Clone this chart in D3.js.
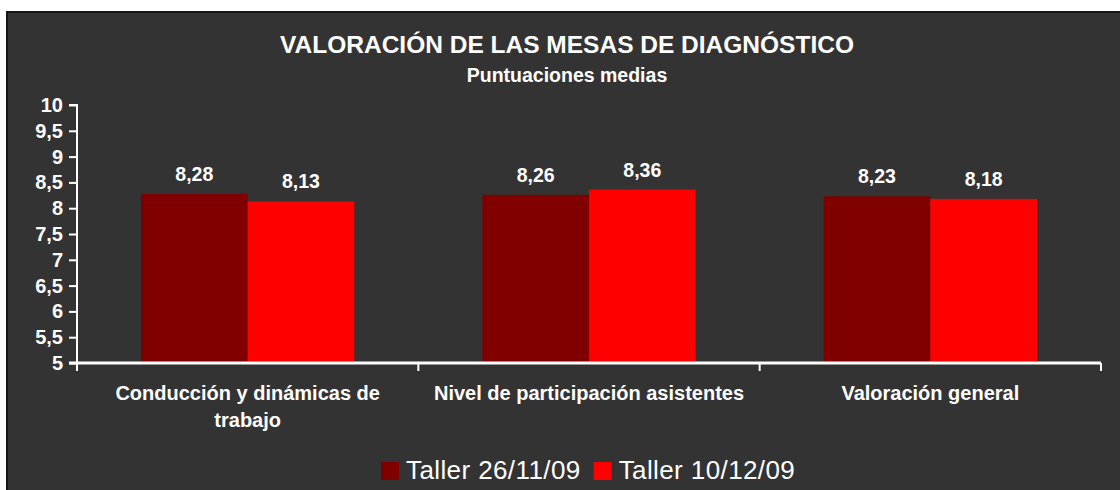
<!DOCTYPE html>
<html>
<head>
<meta charset="utf-8">
<script src="https://cdn.jsdelivr.net/npm/d3@7"></script>
<style>
  body { margin: 0; background: #fff; }
  svg { display: block; font-family: "Liberation Sans", Arial, sans-serif; }
</style>
</head>
<body>
<div id="vis"></div>
<script>
const categories = [["Conducción y dinámicas de", "trabajo"], ["Nivel de participación asistentes"], ["Valoración general"]];
const seriesNames = ["Taller 26/11/09", "Taller 10/12/09"];
const seriesColors = ["#800000", "#ff0000"];
const values1 = [8.28, 8.26, 8.23];
const values2 = [8.13, 8.36, 8.18];
const valueLabels1 = ["8,28", "8,26", "8,23"];
const valueLabels2 = ["8,13", "8,36", "8,18"];
const yTicks = [5, 5.5, 6, 6.5, 7, 7.5, 8, 8.5, 9, 9.5, 10];

const W = 1120, H = 490;
const margin = { top: 105, right: 19, bottom: 127, left: 77 };
const width = W - margin.left - margin.right;
const height = H - margin.top - margin.bottom;

const svg = d3.select("#vis").append("svg")
  .attr("width", W)
  .attr("height", H);

// chart panel
svg.append("rect")
  .attr("x", 7).attr("y", 12)
  .attr("width", W).attr("height", H)
  .attr("fill", "#333333")
  .attr("stroke", "#161616")
  .attr("stroke-width", 2);

svg.append("text")
  .attr("x", 567).attr("y", 53)
  .attr("text-anchor", "middle")
  .attr("fill", "#fff")
  .attr("font-weight", "bold")
  .attr("font-size", 24.5)
  .text("VALORACIÓN DE LAS MESAS DE DIAGNÓSTICO");

svg.append("text")
  .attr("x", 567).attr("y", 82)
  .attr("text-anchor", "middle")
  .attr("fill", "#fff")
  .attr("font-weight", "bold")
  .attr("font-size", 19.5)
  .text("Puntuaciones medias");

const g = svg.append("g")
  .attr("transform", `translate(${margin.left},${margin.top})`);

const x0 = d3.scaleBand()
  .domain(d3.range(categories.length))
  .range([0, width]);

const x1 = d3.scaleBand()
  .domain([0, 1])
  .range([0, x0.bandwidth()])
  .paddingOuter(0.6);

const y = d3.scaleLinear()
  .domain([5, 10])
  .range([height, 0]);

const data = categories.map((c, i) => [
  { s: 0, v: values1[i], label: valueLabels1[i] },
  { s: 1, v: values2[i], label: valueLabels2[i] }
]);

const groups = g.selectAll(".grp")
  .data(data)
  .enter().append("g")
  .attr("transform", (d, i) => `translate(${x0(i)},0)`);

groups.selectAll("rect")
  .data(d => d)
  .enter().append("rect")
  .attr("x", d => x1(d.s))
  .attr("width", x1.bandwidth())
  .attr("y", d => y(d.v))
  .attr("height", d => height - y(d.v))
  .attr("fill", d => seriesColors[d.s]);

groups.selectAll(".lbl")
  .data(d => d)
  .enter().append("text")
  .attr("x", d => x1(d.s) + x1.bandwidth() / 2)
  .attr("y", d => y(d.v) - 13)
  .attr("text-anchor", "middle")
  .attr("fill", "#fff")
  .attr("font-weight", "bold")
  .attr("font-size", 19.5)
  .text(d => d.label);

// y axis
const yAxis = g.append("g")
  .call(d3.axisLeft(y).tickValues(yTicks).tickSize(8).tickPadding(6)
    .tickFormat(d => String(d).replace(".", ",")));
yAxis.selectAll("path, line").attr("stroke", "#fff").attr("stroke-width", 2);
yAxis.select(".domain").attr("d", `M-8,0H0V${height}`);
yAxis.selectAll("text")
  .attr("fill", "#fff")
  .attr("font-weight", "bold")
  .attr("font-size", 20)
  .attr("font-family", "Liberation Sans, Arial, sans-serif");

// x axis
const xAxis = g.append("g")
  .attr("transform", `translate(0,${height})`);
xAxis.append("line")
  .attr("x1", -8).attr("x2", width)
  .attr("stroke", "#fff").attr("stroke-width", 3);
xAxis.selectAll(".tk")
  .data(d3.range(categories.length + 1))
  .enter().append("line")
  .attr("x1", d => d * x0.bandwidth())
  .attr("x2", d => d * x0.bandwidth())
  .attr("y1", 0).attr("y2", 8)
  .attr("stroke", "#fff").attr("stroke-width", 2);

const catText = xAxis.selectAll(".cat")
  .data(categories)
  .enter().append("text")
  .attr("x", (d, i) => x0(i) + x0.bandwidth() / 2)
  .attr("y", 37)
  .attr("text-anchor", "middle")
  .attr("fill", "#fff")
  .attr("font-weight", "bold")
  .attr("font-size", 20);
catText.selectAll("tspan")
  .data(d => d)
  .enter().append("tspan")
  .attr("x", function () { return d3.select(this.parentNode).attr("x"); })
  .attr("dy", (d, i) => i === 0 ? 0 : 27)
  .text(d => d);

// legend
const legend = svg.append("g").attr("transform", "translate(381,479)");
let lx = 0;
seriesNames.forEach((name, i) => {
  legend.append("rect")
    .attr("x", lx).attr("y", -17)
    .attr("width", 18).attr("height", 18)
    .attr("fill", seriesColors[i]);
  const t = legend.append("text")
    .attr("x", lx + 25).attr("y", 0)
    .attr("fill", "#fff")
    .attr("font-size", 26)
    .attr("letter-spacing", 0.4)
    .text(name);
  lx += 25 + t.node().getComputedTextLength() + 13;
});
</script>
</body>
</html>
